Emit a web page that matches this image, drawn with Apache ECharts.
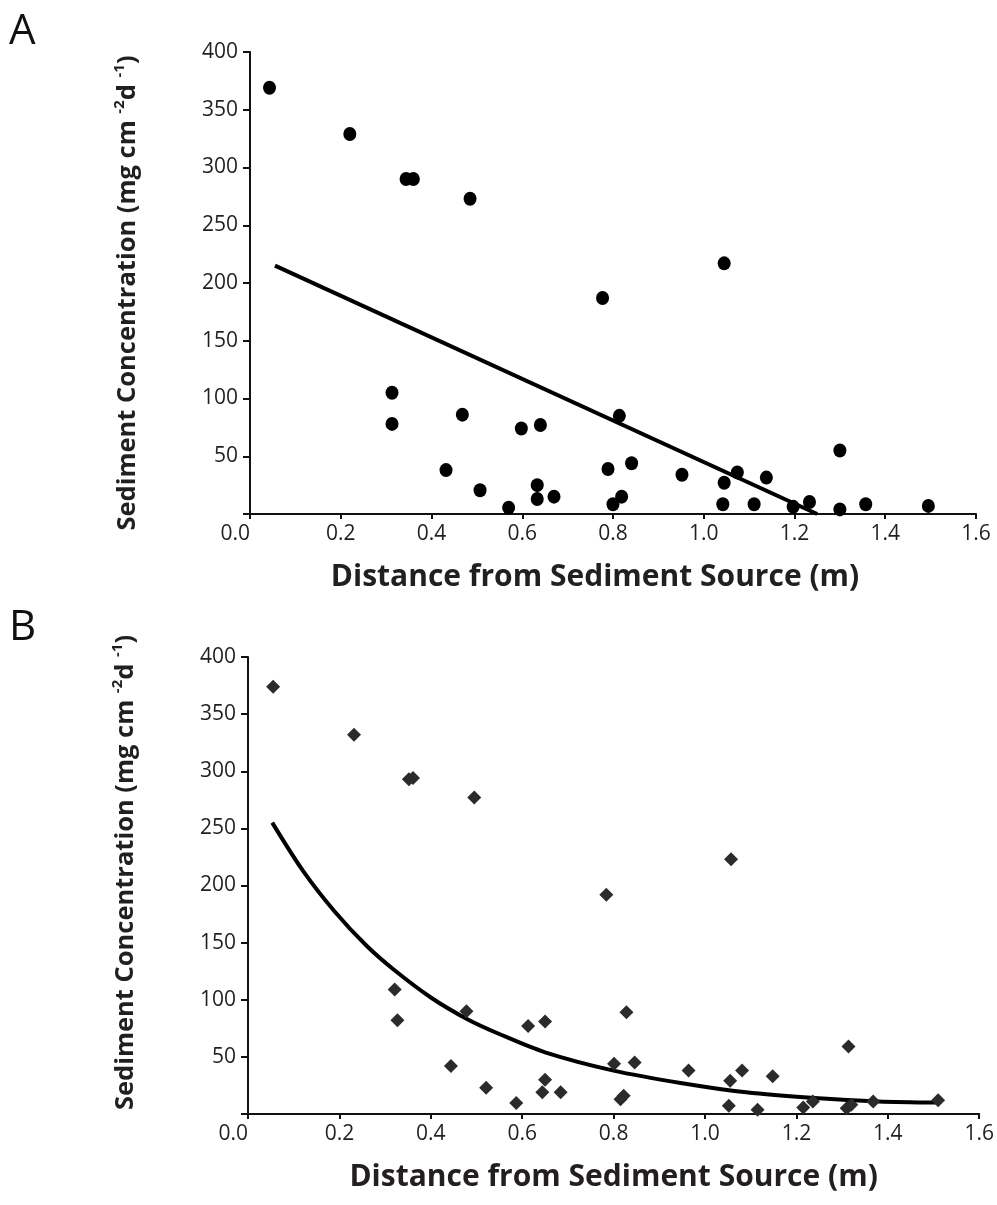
<!DOCTYPE html>
<html>
<head>
<meta charset="utf-8">
<script src="https://cdn.jsdelivr.net/npm/echarts@6/dist/echarts.min.js"></script>
<style>
html,body{margin:0;padding:0;background:#fff;}
#chart{width:997px;height:1205px;}
</style>
</head>
<body>
<div id="chart"></div>
<script>
// Panel A: measured points (distance m, concentration)
const aDistance = [0.043, 0.22, 0.344, 0.36, 0.485, 0.313, 0.313, 0.432, 0.468, 0.507, 0.57, 0.598, 0.633, 0.633, 0.64, 0.67, 0.777, 0.789, 0.80, 0.814, 0.819, 0.841, 0.952, 1.042, 1.045, 1.045, 1.074, 1.111, 1.138, 1.197, 1.233, 1.30, 1.30, 1.357, 1.495];
const aConc     = [369, 329, 290, 290, 273, 105, 78, 38, 86, 20.5, 5.5, 74, 25, 13, 77, 15, 187, 39, 8.4, 85, 15, 44, 34, 8.4, 27, 217, 36, 8.4, 31.5, 6.3, 10.4, 55, 4, 8.4, 7];
// Panel A: linear fit end points
const aFitX = [0.055, 1.25];
const aFitY = [215, 0];

// Panel B: measured points
const bDistance = [0.055, 0.232, 0.352, 0.361, 0.495, 0.321, 0.327, 0.444, 0.478, 0.521, 0.587, 0.613, 0.644, 0.65, 0.65, 0.684, 0.784, 0.801, 0.815, 0.822, 0.828, 0.846, 0.964, 1.052, 1.055, 1.057, 1.081, 1.115, 1.148, 1.215, 1.236, 1.31, 1.314, 1.32, 1.368, 1.51];
const bConc     = [374, 332, 293, 294, 277, 109, 82, 42, 90, 23, 9.6, 77, 19, 30, 81, 19, 192, 44, 13, 16, 89, 45, 38, 7.3, 29, 223, 38, 3.8, 33, 5.6, 11, 5, 59, 8, 11, 12];
// Panel B: fitted curve
const bFitX = [0.053, 0.12, 0.19, 0.26, 0.32, 0.40, 0.48, 0.55, 0.65, 0.80, 0.95, 1.09, 1.24, 1.38, 1.51];
const bFitY = [255, 213, 177, 147, 126, 102, 83, 70, 54, 38, 27, 19, 14, 11, 10];

// Axis settings / labels
const xTicks = ['0.0','0.2','0.4','0.6','0.8','1.0','1.2','1.4','1.6'];
const yTicks = ['', '50','100','150','200','250','300','350','400'];
const xTitle = 'Distance from Sediment Source (m)';
const panelLabels = ['A', 'B'];

const zip = (xs, ys) => xs.map((x, i) => [x, ys[i]]);

const FONT = '"Open Sans", "Noto Sans", sans-serif';
const TXT = '#231f20';

function xAxis(gridIndex, padRight) {
  return {
    type: 'value', gridIndex, min: 0, max: 1.6, interval: 0.2,
    name: xTitle, nameLocation: 'middle', nameGap: 48,
    nameTextStyle: { fontFamily: FONT, fontWeight: 'bold', fontSize: 30, color: TXT, padding: [0, padRight, 0, 0] },
    axisLine: { show: true, lineStyle: { color: '#111', width: 2 } },
    axisTick: { show: true, inside: false, length: 5, lineStyle: { color: '#111', width: 2 } },
    axisLabel: { margin: 10, fontFamily: FONT, fontSize: 21, color: TXT, alignMinLabel: 'right',
      formatter: v => xTicks[Math.round(v / 0.2)] },
    splitLine: { show: false }
  };
}
function yAxis(gridIndex, padL, padR) {
  return {
    type: 'value', gridIndex, min: 0, max: 400, interval: 50,
    name: '{t|Sediment Concentration (mg cm }{s|-2}{t|d }{s|-1}{t|)}',
    nameLocation: 'middle', nameGap: 106, nameRotate: 90,
    nameTextStyle: {
      padding: [0, padR, 0, padL],
      rich: {
        t: { fontFamily: FONT, fontWeight: 'bold', fontSize: 25.5, color: TXT, lineHeight: 32 },
        s: { fontFamily: FONT, fontWeight: 'bold', fontSize: 15, color: TXT, lineHeight: 15, verticalAlign: 'top' }
      }
    },
    axisLine: { show: true, lineStyle: { color: '#111', width: 2 } },
    axisTick: { show: true, inside: false, length: 7, lineStyle: { color: '#111', width: 2 } },
    axisLabel: { margin: 12, fontFamily: FONT, fontSize: 21, color: TXT,
      formatter: v => yTicks[Math.round(v / 50)] },
    splitLine: { show: false }
  };
}

const option = {
  backgroundColor: '#fff',
  animation: false,
  grid: [
    { left: 250, right: 21, top: 52, height: 462 },
    { left: 248, right: 17, top: 657, height: 457 }
  ],
  xAxis: [xAxis(0, 36), xAxis(1, 0)],
  yAxis: [yAxis(0, 0, 20), yAxis(1, 26, 0)],
  graphic: [
    { type: 'text', left: 9, top: 11, style: { text: panelLabels[0], fontFamily: FONT, fontSize: 42, fill: '#111' } },
    { type: 'text', left: 9, top: 607, style: { text: panelLabels[1], fontFamily: FONT, fontSize: 42, fill: '#111' } }
  ],
  series: [
    { type: 'line', xAxisIndex: 0, yAxisIndex: 0, data: zip(aFitX, aFitY), showSymbol: false,
      lineStyle: { color: '#000', width: 4 }, z: 2 },
    { type: 'scatter', xAxisIndex: 0, yAxisIndex: 0, data: zip(aDistance, aConc), symbol: 'circle',
      symbolSize: [13, 14], itemStyle: { color: '#000', opacity: 1 }, z: 3 },
    { type: 'line', xAxisIndex: 1, yAxisIndex: 1, data: zip(bFitX, bFitY), showSymbol: false, smooth: 0.3,
      lineStyle: { color: '#000', width: 4 }, z: 2 },
    { type: 'scatter', xAxisIndex: 1, yAxisIndex: 1, data: zip(bDistance, bConc), symbol: 'diamond',
      symbolSize: [14, 14], itemStyle: { color: '#2b2b2b', opacity: 1 }, z: 3 }
  ]
};

const chart = echarts.init(document.getElementById('chart'), null, { renderer: 'canvas' });
chart.setOption(option);
</script>
</body>
</html>
